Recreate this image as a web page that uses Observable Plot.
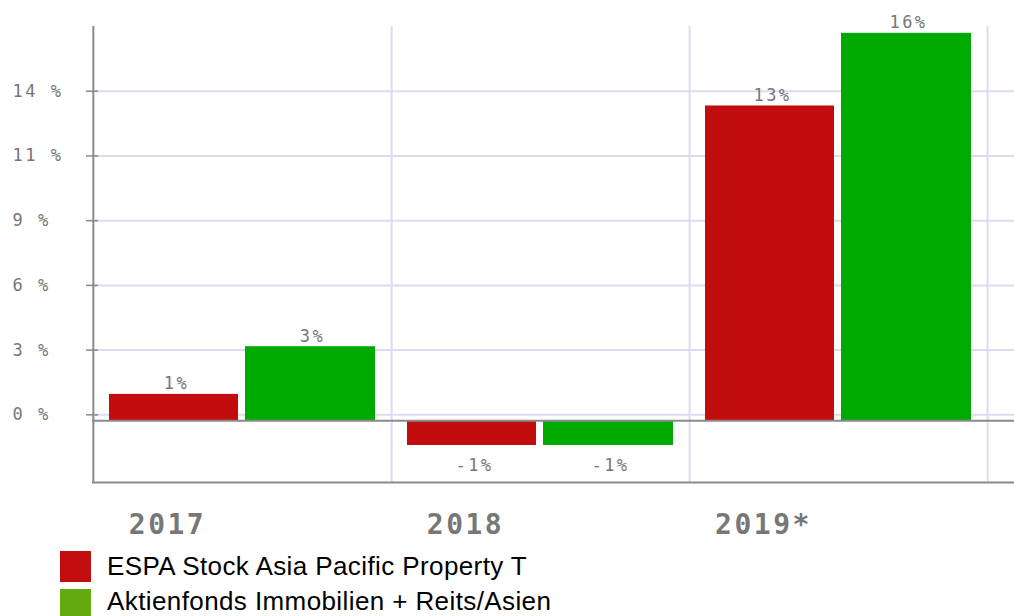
<!DOCTYPE html>
<html><head><meta charset="utf-8">
<script src="https://cdn.jsdelivr.net/npm/d3@7"></script>
<script src="https://cdn.jsdelivr.net/npm/@observablehq/plot@0.6"></script>
<style>
html,body{margin:0;padding:0;background:#fff;}
body{width:1014px;height:616px;overflow:hidden;position:relative;}
#chart svg{display:block;}
#chart text{letter-spacing:2.5px;}
#legend{position:absolute;left:60px;top:551px;font-family:"Liberation Sans",Arial,sans-serif;font-size:26px;color:#000;}
.item{position:absolute;left:0;white-space:nowrap;}
.sw{position:absolute;left:0;top:0;width:31px;height:31px;}
.lt{position:absolute;left:47px;line-height:24px;letter-spacing:0.4px;}
</style></head><body>
<div id="chart"></div>
<div id="legend"></div>
<script>
// ---- data ----
const years = ["2017", "2018", "2019*"];
const seriesNames = ["ESPA Stock Asia Pacific Property T", "Aktienfonds Immobilien + Reits/Asien"];
const espaValues = [0.9, -1.35, 13.6];
const fondsValues = [3.0, -1.35, 16.8];
const espaLabels = ["1%", "-1%", "13%"];
const fondsLabels = ["3%", "-1%", "16%"];
const tickValues = [0, 2.85, 5.7, 8.55, 11.4, 14.25];
const tickLabels = ["0 %", "3 %", "6 %", "9 %", "11 %", "14 %"];

// ---- styling / layout ----
const barColors = ["#c10d0d", "#00aa00"];
const legendColors = ["#c20e0e", "#66aa11"];
const gridColor = "#dcdcf0";
const axisColor = "#8a8a8a";
const textColor = "#777";
const W = 1014, H = 546;
const xRange = [92, 987];
const bw = (xRange[1] - xRange[0]) / years.length;
const yDomain = [-2.98, 17.10];
const axisBase = -0.26; // the x-axis line sits slightly below the 0 gridline

const rows = years.flatMap((y, i) => [
  {year: y, series: 0, value: espaValues[i], label: espaLabels[i]},
  {year: y, series: 1, value: fondsValues[i], label: fondsLabels[i]}
]);
const red = rows.filter(d => d.series === 0);
const green = rows.filter(d => d.series === 1);
const labelDx = [-66, 70];
const mono = "DejaVu Sans Mono, monospace";

const valueText = (data, s) => [
  Plot.text(data.filter(d => d.value >= 0), {x: "year", y: "value", text: "label", dx: labelDx[s], dy: -5,
    lineAnchor: "bottom", fontFamily: mono, fontSize: 17, fill: textColor}),
  Plot.text(data.filter(d => d.value < 0), {x: "year", y: "value", text: "label", dx: labelDx[s], dy: 13,
    lineAnchor: "top", fontFamily: mono, fontSize: 17, fill: textColor})
];

const chart = Plot.plot({
  width: W, height: H,
  marginLeft: xRange[0], marginRight: 0, marginTop: 26, marginBottom: 64,
  style: {background: "#fff", overflow: "visible"},
  x: {type: "band", domain: years, range: xRange, padding: 0, axis: null},
  y: {domain: yDomain, label: null},
  marks: [
    Plot.gridY(tickValues, {stroke: gridColor, strokeOpacity: 1, strokeWidth: 2}),
    Plot.ruleX(years, {x: d => d, dx: bw / 2, stroke: gridColor, strokeWidth: 2}),
    Plot.barY(red, {x: "year", y1: axisBase, y2: "value", fill: barColors[0], insetLeft: 16, insetRight: 153}),
    Plot.barY(green, {x: "year", y1: axisBase, y2: "value", fill: barColors[1], insetLeft: 152, insetRight: 16}),
    Plot.ruleY([axisBase], {stroke: axisColor, strokeWidth: 2}),
    Plot.ruleY([yDomain[0]], {stroke: axisColor, strokeWidth: 2}),
    Plot.ruleX([years[0]], {x: d => d, dx: -bw / 2, stroke: axisColor, strokeWidth: 2}),
    Plot.axisY(tickValues, {tickSize: 12, dx: 6, tickFormat: () => "", stroke: axisColor, strokeWidth: 1.5, label: null}),
    Plot.text(tickValues, {y: d => d, text: (d, i) => tickLabels[i], frameAnchor: "left", dx: -80,
      textAnchor: "start", fontFamily: mono, fontSize: 17, fill: textColor}),
    ...valueText(red, 0),
    ...valueText(green, 1),
    Plot.text(years, {x: d => d, frameAnchor: "bottom", dy: 43, dx: -75, lineAnchor: "middle",
      fontFamily: mono, fontSize: 28, fontWeight: "bold", fill: textColor})
  ]
});
document.getElementById("chart").appendChild(chart);

const legend = document.getElementById("legend");
seriesNames.forEach((name, i) => {
  const item = document.createElement("div");
  item.className = "item";
  item.style.top = (i * 38) + "px";
  const sw = document.createElement("div");
  sw.className = "sw";
  sw.style.background = legendColors[i];
  const t = document.createElement("span");
  t.className = "lt";
  t.style.top = (i === 0 ? 3 : 0) + "px";
  t.textContent = name;
  item.appendChild(sw); item.appendChild(t);
  legend.appendChild(item);
});
</script>
</body></html>
